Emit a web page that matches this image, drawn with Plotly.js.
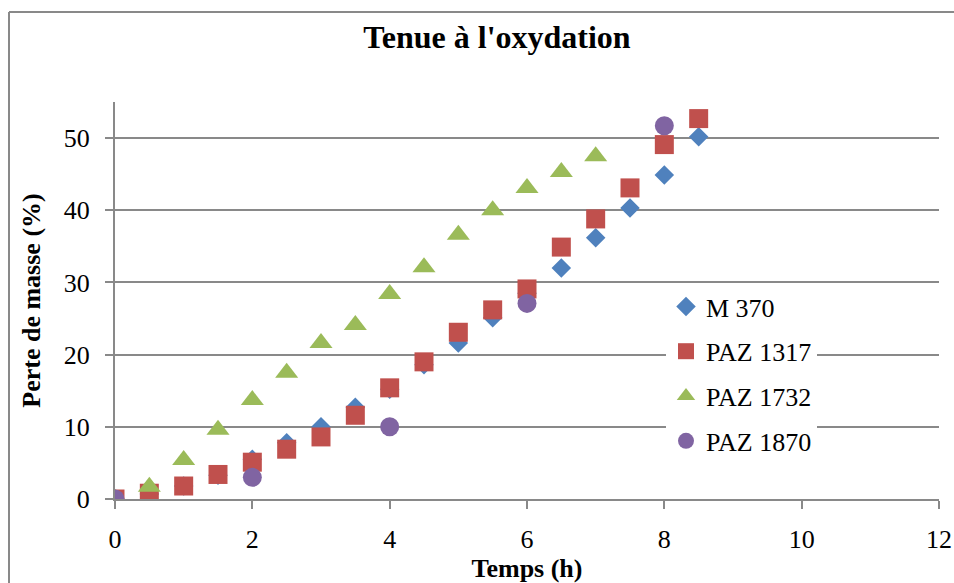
<!DOCTYPE html>
<html>
<head>
<meta charset="utf-8">
<script src="https://cdn.plot.ly/plotly-3.0.1.min.js"></script>
<style>html,body{margin:0;padding:0;background:#fff;}#chart{width:954px;height:583px;}</style>
</head>
<body>
<div id="chart"></div>
<script>
const timeFull = [0,0.5,1,1.5,2,2.5,3,3.5,4,4.5,5,5.5,6,6.5,7,7.5,8,8.5];
const m370 = [0,0.7,1.8,3.3,5.5,7.8,10.0,12.7,15.2,18.6,21.6,25.1,28.5,32.0,36.2,40.3,44.9,50.2];
const paz1317 = [0,0.8,1.8,3.4,5.1,6.9,8.6,11.6,15.4,19.0,23.1,26.2,29.1,34.9,38.8,43.1,49.1,52.7];
const time1732 = [0,0.5,1,1.5,2,2.5,3,3.5,4,4.5,5,5.5,6,6.5,7];
const paz1732 = [0,1.7,5.4,9.6,13.7,17.5,21.6,24.1,28.4,32.1,36.6,40.0,43.1,45.3,47.5];
const time1870 = [0,2,4,6,8];
const paz1870 = [0,3.0,10.0,27.1,51.7];
const names = ['M 370','PAZ 1317','PAZ 1732','PAZ 1870'];
const xTicks = [0,2,4,6,8,10,12];
const yTicks = [0,10,20,30,40,50];

const fontFam = '"Liberation Serif","Times New Roman",serif';
const grey = '#898989';

const traces = [
  {x: timeFull, y: m370, name: names[0], mode:'markers', type:'scatter', legendgroup:'a',
   marker:{symbol:'diamond', size:15, color:'#4F81BD'}},
  {x: timeFull, y: paz1317, name: names[1], mode:'markers', type:'scatter', legendgroup:'b',
   marker:{symbol:'square', size:19, color:'#C0504D'}},
  {x: time1732, y: paz1732, name: names[2], mode:'markers', type:'scatter', legendgroup:'c',
   marker:{symbol:'triangle-up', size:20, color:'#9BBB59'}},
  {x: time1870, y: paz1870, name: names[3], mode:'markers', type:'scatter', legendgroup:'d',
   marker:{symbol:'circle', size:19, color:'#8064A2'}}
];

const layout = {
  width:954, height:583,
  margin:{l:115, r:15, t:102, b:84},
  paper_bgcolor:'#fff', plot_bgcolor:'#fff',
  font:{family:fontFam, size:26, color:'#000'},
  title:{text:"<b>Tenue à l'oxydation</b>", font:{family:fontFam, size:32, color:'#000'},
         x:497/954, xref:'container', xanchor:'center', y:1-37/583, yref:'container', yanchor:'middle'},
  xaxis:{range:[0,12], tickvals:xTicks, ticktext:xTicks.map(String), showgrid:false, zeroline:false,
         showline:true, linecolor:grey, linewidth:2, ticks:'outside', ticklen:8, tickwidth:2, tickcolor:grey,
         ticklabelstandoff:8,
         tickfont:{family:fontFam, size:26},
         title:{text:'<b>Temps (h)</b>', font:{family:fontFam, size:26}, standoff:0}},
  yaxis:{range:[0,55], tickvals:yTicks, ticktext:yTicks.map(String), showgrid:true, gridcolor:grey, gridwidth:2,
         zeroline:false, showline:true, linecolor:grey, linewidth:2, ticks:'outside', ticklen:8, tickwidth:2, tickcolor:grey,
         ticklabelstandoff:10,
         tickfont:{family:fontFam, size:26},
         title:{text:'<b>Perte de masse (%)</b>', font:{family:fontFam, size:26}, standoff:16}},
  legend:{x:(666-115)/824, xanchor:'left', y:(499-283)/397, yanchor:'top', bgcolor:'#fff', borderwidth:0,
          font:{family:fontFam, size:26, color:'#000'}, tracegroupgap:8, traceorder:'grouped'},
  showlegend:true,
  shapes:[
    {type:'line', xref:'paper', yref:'paper', x0:(9-115)/824, x1:(9-115)/824, y0:-0.3, y1:(499-12)/397,
     line:{color:grey, width:2}},
    {type:'line', xref:'paper', yref:'paper', x0:(9-115)/824, x1:1.1, y0:(499-12)/397, y1:(499-12)/397,
     line:{color:grey, width:2}}
  ]
};

Plotly.newPlot('chart', traces, layout, {displayModeBar:false, responsive:false});
</script>
</body>
</html>
